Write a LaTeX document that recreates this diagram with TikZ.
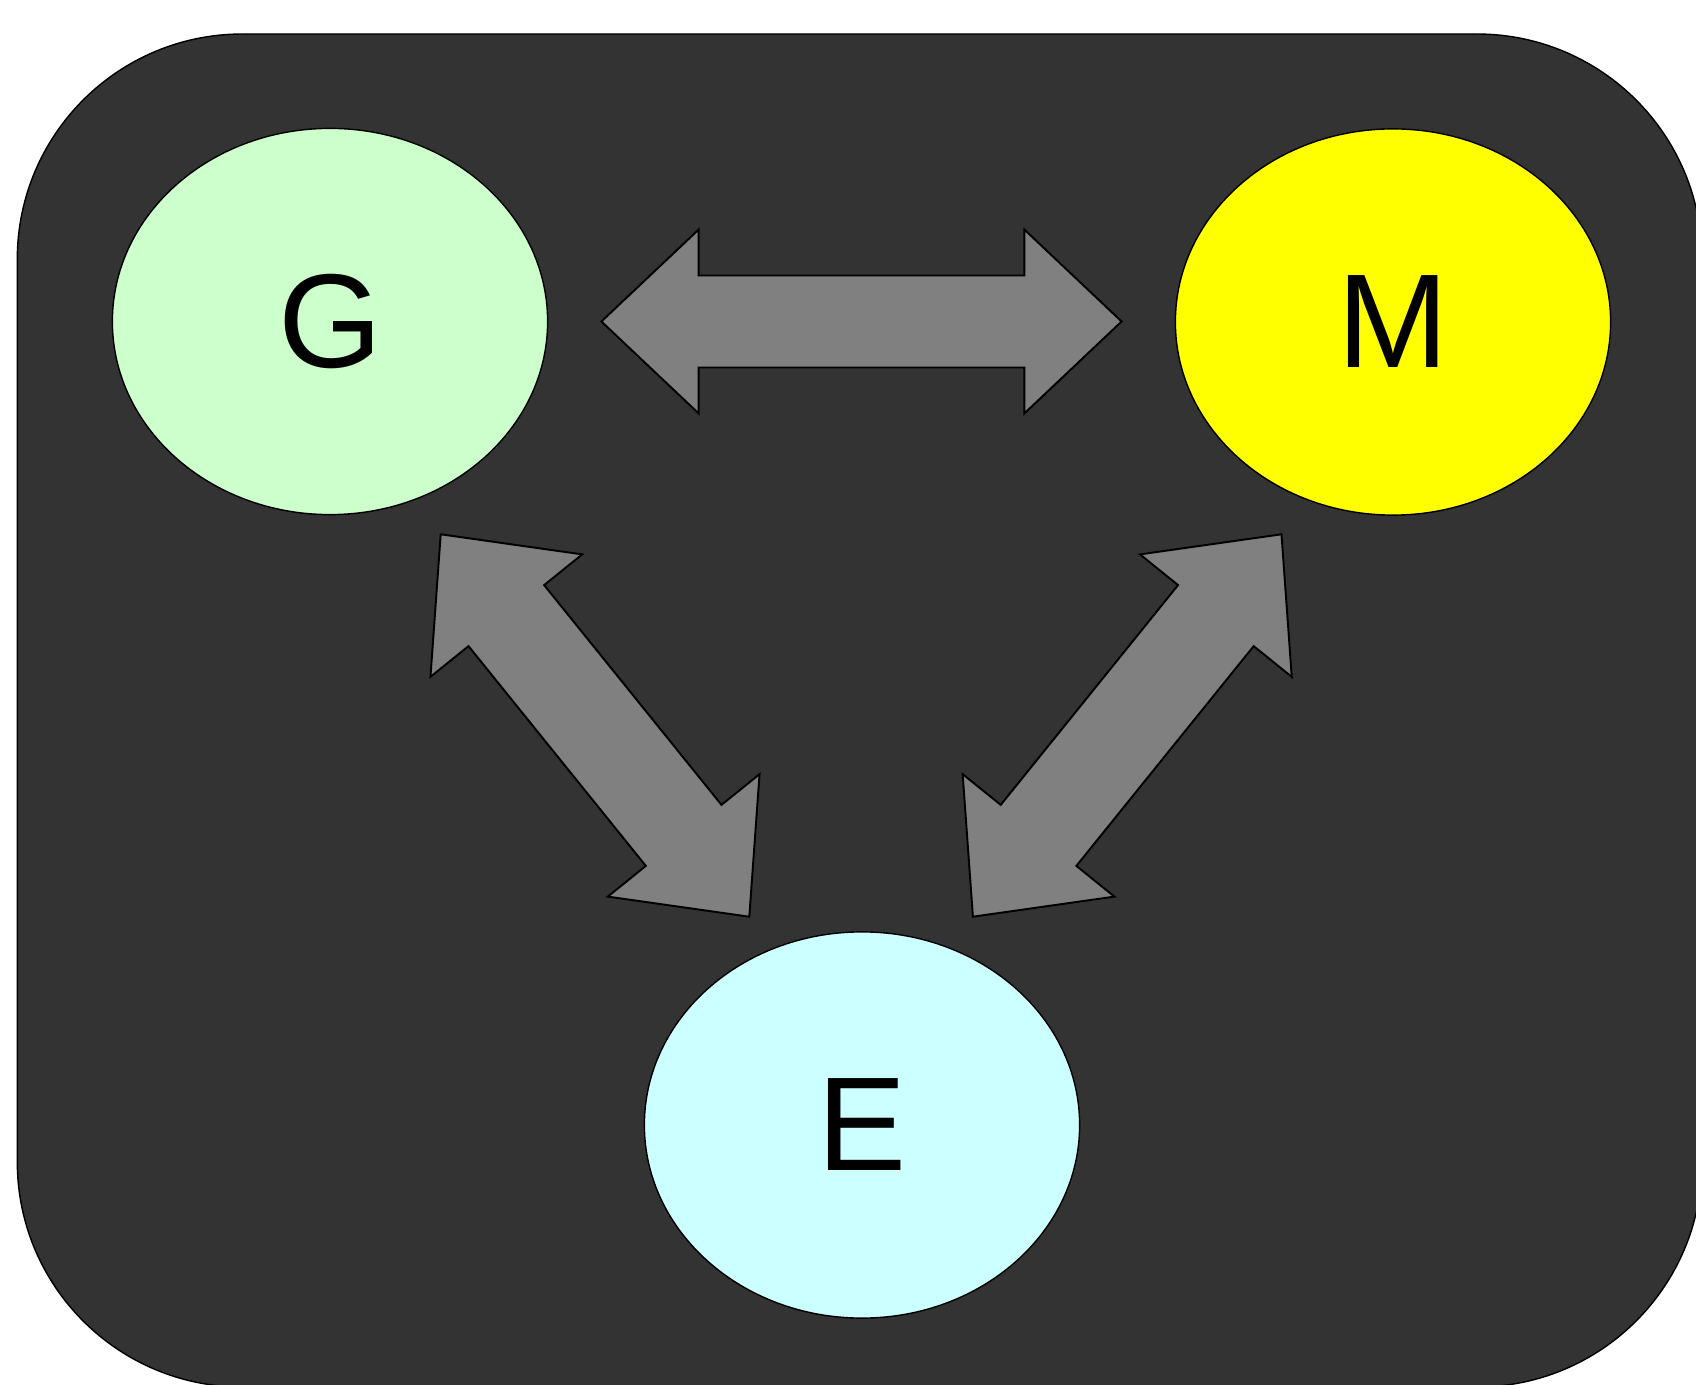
\documentclass[tikz,border=0pt]{standalone}
\usepackage{fontspec}
\setmainfont{Liberation Sans}
\usetikzlibrary{shapes.geometric}

\definecolor{panel}{HTML}{333333}
\definecolor{arrowgray}{HTML}{808080}
\definecolor{gfill}{HTML}{CCFFCC}
\definecolor{mfill}{HTML}{FFFF00}
\definecolor{efill}{HTML}{CCFFFF}

\tikzset{
  panelbox/.style={fill=panel, draw=black, line width=0.4pt, rounded corners=2.25cm},
  blob/.style={ellipse, draw=black, line width=0.4pt,
    minimum width=4.35cm, minimum height=3.86cm, inner sep=0pt,
    font=\fontsize{38}{42}\selectfont},
  arrowbody/.style={fill=arrowgray, draw=black, line width=0.55pt, line join=miter},
  % block double arrow along the local x axis:
  % #1 half length, #2 head length, #3 head half-width, #4 shaft half-width
  pics/dblarrow/.style n args={4}{code={
    \pgfmathsetmacro\tipLeft{-#1}
    \pgfmathsetmacro\baseLeft{-#1+#2}
    \pgfmathsetmacro\baseRight{#1-#2}
    \draw[arrowbody] (\tipLeft,0) -- (\baseLeft,#3) -- (\baseLeft,#4)
      -- (\baseRight,#4) -- (\baseRight,#3) -- (#1,0)
      -- (\baseRight,-#3) -- (\baseRight,-#4) -- (\baseLeft,-#4)
      -- (\baseLeft,-#3) -- cycle;
  }}
}

\begin{document}
\begin{tikzpicture}[x=0.01cm, y=-0.01cm]
  \clip (0,0) rectangle (1696,1385);
  \fill[white] (0,0) rectangle (1696,1385);

  % dark panel
  \draw[panelbox] (17.3,34) rectangle (1702,1387);

  % the three ellipses
  \node[blob, fill=gfill] (G) at (330,321.5) {G};
  \node[blob, fill=mfill] (M) at (1393,322) {M};
  \node[blob, fill=efill] (E) at (862,1125) {E};

  % block arrows between them
  \pic at (861.5,321.5) {dblarrow={260.1}{97.3}{92}{46}};
  \pic[rotate=-51.1] at (595,725.5) {dblarrow={245.7}{104.5}{97.5}{48.6}};
  \pic[rotate=51.1] at (1127.2,725.5) {dblarrow={245.7}{104.5}{97.5}{48.6}};
\end{tikzpicture}
\end{document}
